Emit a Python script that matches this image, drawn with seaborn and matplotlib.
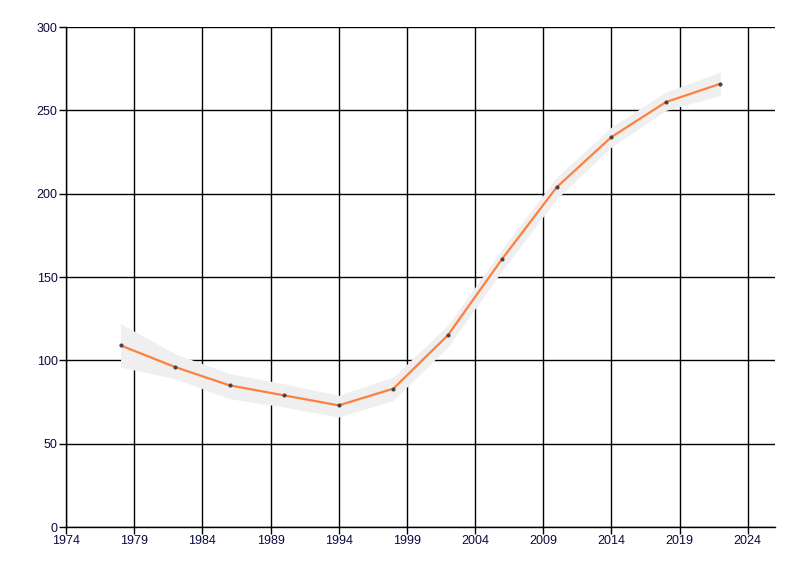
import matplotlib
matplotlib.use("Agg")
import matplotlib.pyplot as plt
import seaborn as sns
import pandas as pd

years = [1978, 1982, 1986, 1990, 1994, 1998, 2002, 2006, 2010, 2014, 2018, 2022]
values = [109, 96, 85, 79, 73, 83, 115, 161, 204, 234, 255, 266]
band_low = [96, 89, 77, 72, 66, 76, 108, 154, 197, 228, 250, 259]
band_high = [122, 104, 92, 86, 79, 90, 121, 167, 210, 240, 261, 273]
x_ticks = [1974, 1979, 1984, 1989, 1994, 1999, 2004, 2009, 2014, 2019, 2024]
y_ticks = [0, 50, 100, 150, 200, 250, 300]

df = pd.DataFrame({"year": years, "value": values})

sns.set_style("white")
plt.rcParams["font.family"] = ["Liberation Sans", "DejaVu Sans"]

fig = plt.figure(figsize=(8, 5.76), dpi=100)
ax = fig.add_axes([0.0825, 0.085, 0.88625, 0.868])

ax.fill_between(years, band_low, band_high, color="#EFEFEF", linewidth=0, zorder=2)
sns.lineplot(data=df, x="year", y="value", ax=ax, color="#FF7F3F", linewidth=1.6,
             marker="o", markersize=2.2, markerfacecolor="#444444",
             markeredgecolor="#444444", zorder=3)

ax.set_xlim(1974, 2026)
ax.set_ylim(0, 300)
ax.set_xticks(x_ticks)
ax.set_yticks(y_ticks)
ax.set_xticklabels([str(t) for t in x_ticks])
ax.set_yticklabels([str(t) for t in y_ticks])
ax.grid(True, color="black", linewidth=1.0, zorder=1)
ax.set_axisbelow(True)
for s in ["top", "right"]:
    ax.spines[s].set_visible(False)
for s in ["left", "bottom"]:
    ax.spines[s].set_color("black")
    ax.spines[s].set_linewidth(1.0)
ax.tick_params(axis="both", which="both", direction="out", length=5, width=1,
               color="black", labelsize=9, labelcolor="#0A0A40", pad=1,
               bottom=True, left=True)
ax.set_xlabel("")
ax.set_ylabel("")

fig.savefig("out.png", dpi=100)
